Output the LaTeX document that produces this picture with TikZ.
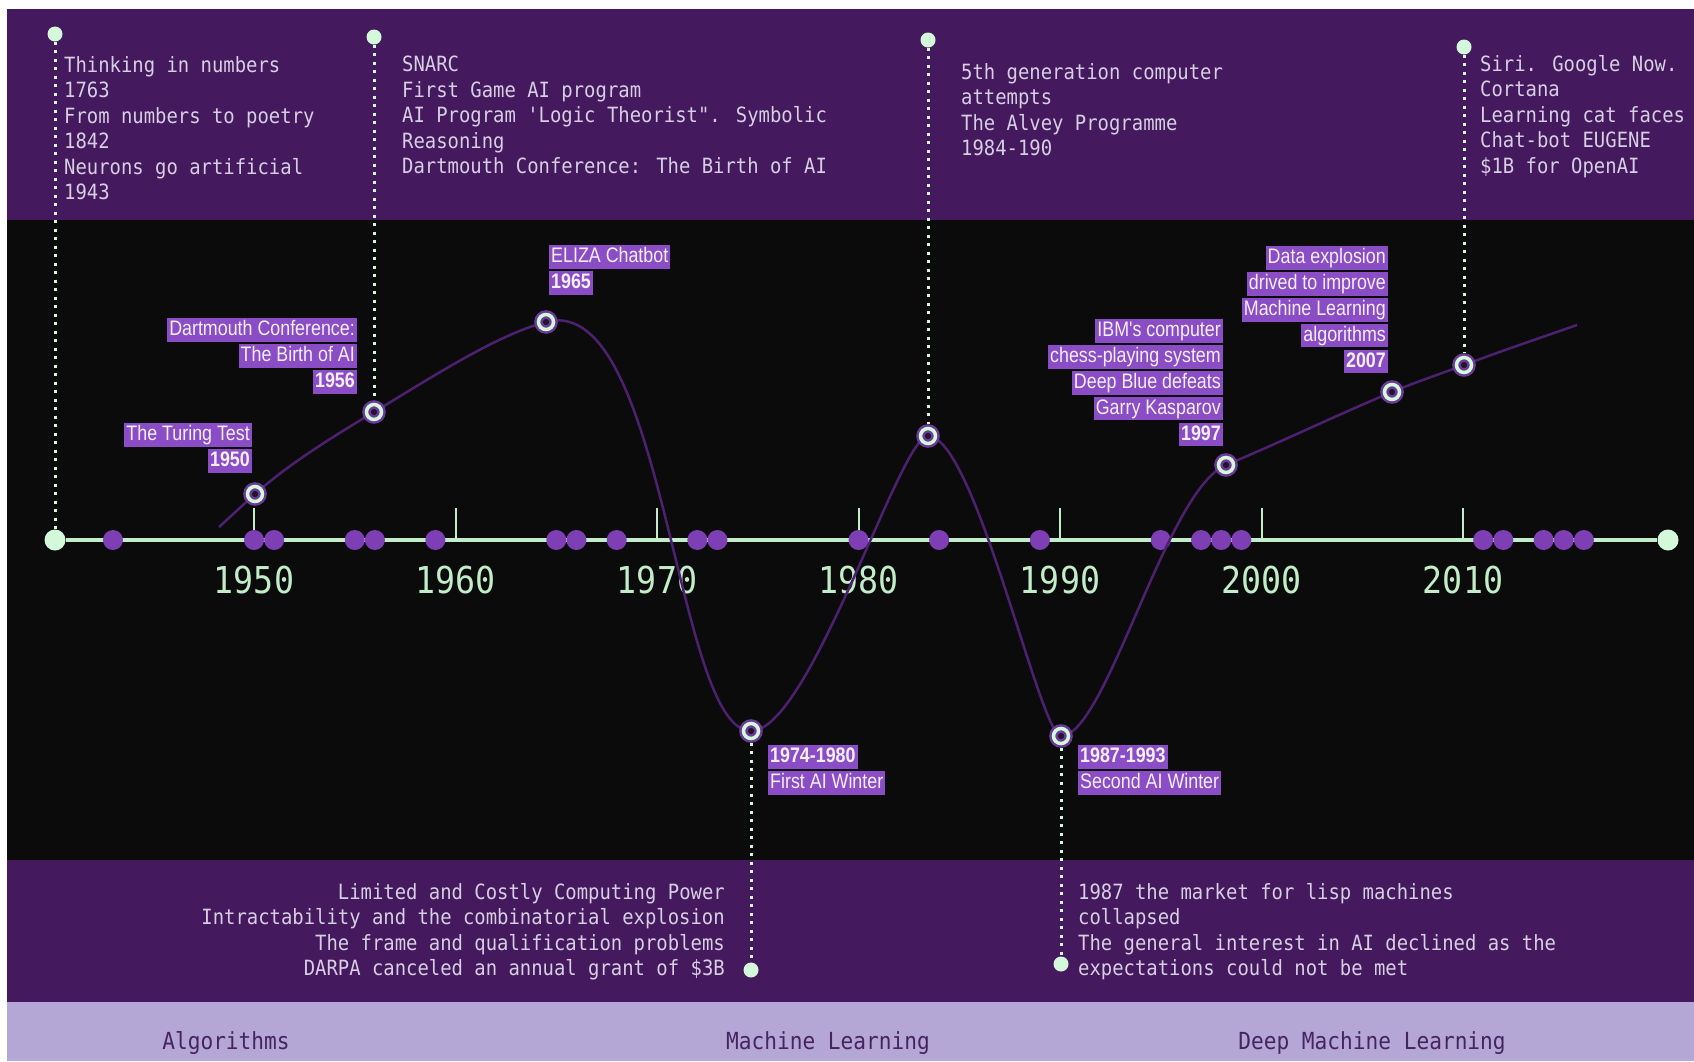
\documentclass[tikz,border=0pt]{standalone}
\usepackage{fontspec}
\usepackage{xcolor}
\usepackage{tikz}
\usetikzlibrary{positioning}

\newfontfamily\codefont[FakeStretch=0.9]{DejaVu Sans Mono}
\newfontfamily\tagfont[FakeStretch=0.85]{Liberation Sans}

\definecolor{bandpurple}{HTML}{45195E}
\definecolor{lavender}{HTML}{B4A7D6}
\definecolor{night}{HTML}{0B0B0C}
\definecolor{mint}{HTML}{C2EDC8}
\definecolor{mintlight}{HTML}{D4F8DA}
\definecolor{memotext}{HTML}{D6CFE2}
\definecolor{dotpurple}{HTML}{7E3FB4}
\definecolor{tagpurple}{HTML}{8B4DC5}
\definecolor{tagtext}{HTML}{F4EFFA}
\definecolor{trendpurple}{HTML}{4E2070}
\definecolor{halo}{HTML}{6B3A96}
\definecolor{ringcore}{HTML}{24152F}
\definecolor{eradark}{HTML}{46245F}

% year -> x position on the time axis
\newcommand{\yx}[1]{52.5+(#1-1940)*20.15}

\begin{document}
\begin{tikzpicture}[x=1pt,y=-1pt,
    memo/.style={font=\codefont\fontsize{21}{25.5}\selectfont, text=memotext, inner sep=0pt},
    era/.style={font=\codefont\fontsize{23.5}{26}\selectfont, text=eradark},
    yearlabel/.style={font=\codefont\fontsize{37}{40}\selectfont, text=mint},
    yeartick/.style={draw=mint, line width=2pt},
    tag/.style={fill=tagpurple, text=tagtext, font=\tagfont\fontsize{21}{24}\selectfont,
      inner xsep=2pt, inner ysep=1.75pt, text height=15.5pt, text depth=4.5pt},
    pin/.style={circle, fill=mintlight, inner sep=0pt, minimum size=15pt},
    axisend/.style={circle, fill=mintlight, inner sep=0pt, minimum size=21pt},
    yeardot/.style={circle, fill=dotpurple, inner sep=0pt, minimum size=20pt},
    ring/.style={circle, fill=ringcore, draw=halo, line width=2.5pt, double=mintlight,
      double distance=3.5pt, inner sep=0pt, minimum size=15pt, outer sep=4.25pt},
    dotline/.style={draw=mintlight, line width=3pt, dash pattern=on 3pt off 5.5pt},
    trend/.style={draw=trendpurple, line width=2.5pt}]
  \useasboundingbox (0,0) rectangle (1694,1061);
  \fill[white] (0,0) rectangle (1694,1061);

  % bands
  \fill[bandpurple] (7,9) rectangle (1694,220);
  \fill[night] (7,220) rectangle (1694,860);
  \fill[bandpurple] (7,860) rectangle (1694,1002);
  \fill[lavender] (7,1002) rectangle (1694,1061);

  % notes in the bands
  \node[memo, anchor=north west, align=left] (early) at (64,56)
    {Thinking in numbers\\1763\\From numbers to poetry\\1842\\Neurons go artificial\\1943};
  \node[memo, anchor=north west, align=left] (snarc) at (402,56)
    {SNARC\\First Game AI program\\AI Program 'Logic Theorist". Symbolic\\Reasoning\\Dartmouth Conference: The Birth of AI};
  \node[memo, anchor=north west, align=left] (fifthgen) at (961,63)
    {5th generation computer\\attempts\\The Alvey Programme\\1984-190};
  \node[memo, anchor=north west, align=left] (assistants) at (1480,55)
    {Siri. Google Now.\\Cortana\\Learning cat faces\\Chat-bot EUGENE\\\$1B for OpenAI};
  \node[memo, anchor=north east, align=right] (causes) at (725,883)
    {Limited and Costly Computing Power\\Intractability and the combinatorial explosion\\The frame and qualification problems\\DARPA canceled an annual grant of \$3B};
  \node[memo, anchor=north west, align=left] (lisp) at (1078,883)
    {1987 the market for lisp machines\\collapsed\\The general interest in AI declined as the\\expectations could not be met};

  \node[era] (algo) at (226,1043) {Algorithms};
  \node[era] (ml) at (828,1043) {Machine Learning};
  \node[era] (dml) at (1372,1043) {Deep Machine Learning};

  % time axis
  \node[axisend] (axstart) at (55,540) {};
  \node[axisend] (axstop) at (1668,540) {};
  \draw[draw=mint, line width=4pt] (axstart) -- (axstop);
  \foreach \yr in {1950,1960,...,2010} {
    \draw[yeartick] ({\yx{\yr}},508) -- ({\yx{\yr}},540);
    \node[yearlabel] (y\yr) at ({\yx{\yr}},580) {\yr};
  }
  \foreach \yr in {1943,1950,1951,1955,1956,1959,1965,1966,1968,1972,1973,1980,
                   1984,1989,1995,1997,1998,1999,2011,2012,2014,2015,2016}
    \node[yeardot] (d\yr) at ({\yx{\yr}},540) {};

  % interest curve
  \coordinate (c0) at (219,527);
  \coordinate (tur) at (255,494);
  \coordinate (dar) at (374,412);
  \coordinate (eli) at (546,322);
  \coordinate (wi1) at (751,731);
  \coordinate (gen) at (928,436);
  \coordinate (wi2) at (1061,736);
  \coordinate (ibm) at (1226,465);
  \coordinate (dat) at (1392,392);
  \coordinate (sir) at (1464,365);
  \coordinate (c1) at (1577,325);
  \draw[trend] (c0) -- (tur) .. controls (290,463) and (334,436) .. (dar)
    .. controls (429,379) and (496,335) .. (eli)
    .. controls (665,290) and (675,731) .. (wi1)
    .. controls (810,731) and (900,436) .. (gen)
    .. controls (975,436) and (1040,736) .. (wi2)
    .. controls (1106,736) and (1166,490) .. (ibm)
    .. controls (1281,442) and (1337,415) .. (dat)
    .. controls (1416,382) and (1440,374) .. (sir)
    .. controls (1502,351) .. (c1);

  \node[ring] (rtur) at (tur) {};
  \node[ring] (rdar) at (dar) {};
  \node[ring] (reli) at (eli) {};
  \node[ring] (rwi1) at (wi1) {};
  \node[ring] (rgen) at (gen) {};
  \node[ring] (rwi2) at (wi2) {};
  \node[ring] (ribm) at (ibm) {};
  \node[ring] (rdat) at (dat) {};
  \node[ring] (rsir) at (sir) {};

  % pins and dotted leaders
  \node[pin] (pinearly) at (55,34) {};
  \node[pin] (pinsnarc) at (374,37) {};
  \node[pin] (pingen) at (928,40) {};
  \node[pin] (pinsiri) at (1464,47) {};
  \node[pin] (pinwi1) at (751,970) {};
  \node[pin] (pinwi2) at (1061,964) {};
  \draw[dotline] (pinearly) -- (axstart);
  \draw[dotline] (pinsnarc) -- (rdar);
  \draw[dotline] (pingen) -- (rgen);
  \draw[dotline] (pinsiri) -- (rsir);
  \draw[dotline] (rwi1) -- (pinwi1);
  \draw[dotline] (rwi2) -- (pinwi2);

  % milestone tags
  \node[tag, anchor=east] (turing1) at (252,435) {The Turing Test};
  \node[tag, below=2pt of turing1.south east, anchor=north east] (turing2) {\bfseries 1950};

  \node[tag, anchor=east] (dart1) at (357,330) {Dartmouth Conference:};
  \node[tag, below=2pt of dart1.south east, anchor=north east] (dart2) {The Birth of AI};
  \node[tag, below=2pt of dart2.south east, anchor=north east] (dart3) {\bfseries 1956};

  \node[tag, anchor=west] (eliza1) at (549,257) {ELIZA Chatbot};
  \node[tag, below=2pt of eliza1.south west, anchor=north west] (eliza2) {\bfseries 1965};

  \node[tag, anchor=west] (winter1a) at (768,757) {\bfseries 1974-1980};
  \node[tag, below=2pt of winter1a.south west, anchor=north west] (winter1b) {First AI Winter};

  \node[tag, anchor=west] (winter2a) at (1078,757) {\bfseries 1987-1993};
  \node[tag, below=2pt of winter2a.south west, anchor=north west] (winter2b) {Second AI Winter};

  \node[tag, anchor=east] (blue1) at (1223,331) {IBM's computer};
  \node[tag, below=2pt of blue1.south east, anchor=north east] (blue2) {chess-playing system};
  \node[tag, below=2pt of blue2.south east, anchor=north east] (blue3) {Deep Blue defeats};
  \node[tag, below=2pt of blue3.south east, anchor=north east] (blue4) {Garry Kasparov};
  \node[tag, below=2pt of blue4.south east, anchor=north east] (blue5) {\bfseries 1997};

  \node[tag, anchor=east] (data1) at (1388,258) {Data explosion};
  \node[tag, below=2pt of data1.south east, anchor=north east] (data2) {drived to improve};
  \node[tag, below=2pt of data2.south east, anchor=north east] (data3) {Machine Learning};
  \node[tag, below=2pt of data3.south east, anchor=north east] (data4) {algorithms};
  \node[tag, below=2pt of data4.south east, anchor=north east] (data5) {\bfseries 2007};
\end{tikzpicture}
\end{document}
